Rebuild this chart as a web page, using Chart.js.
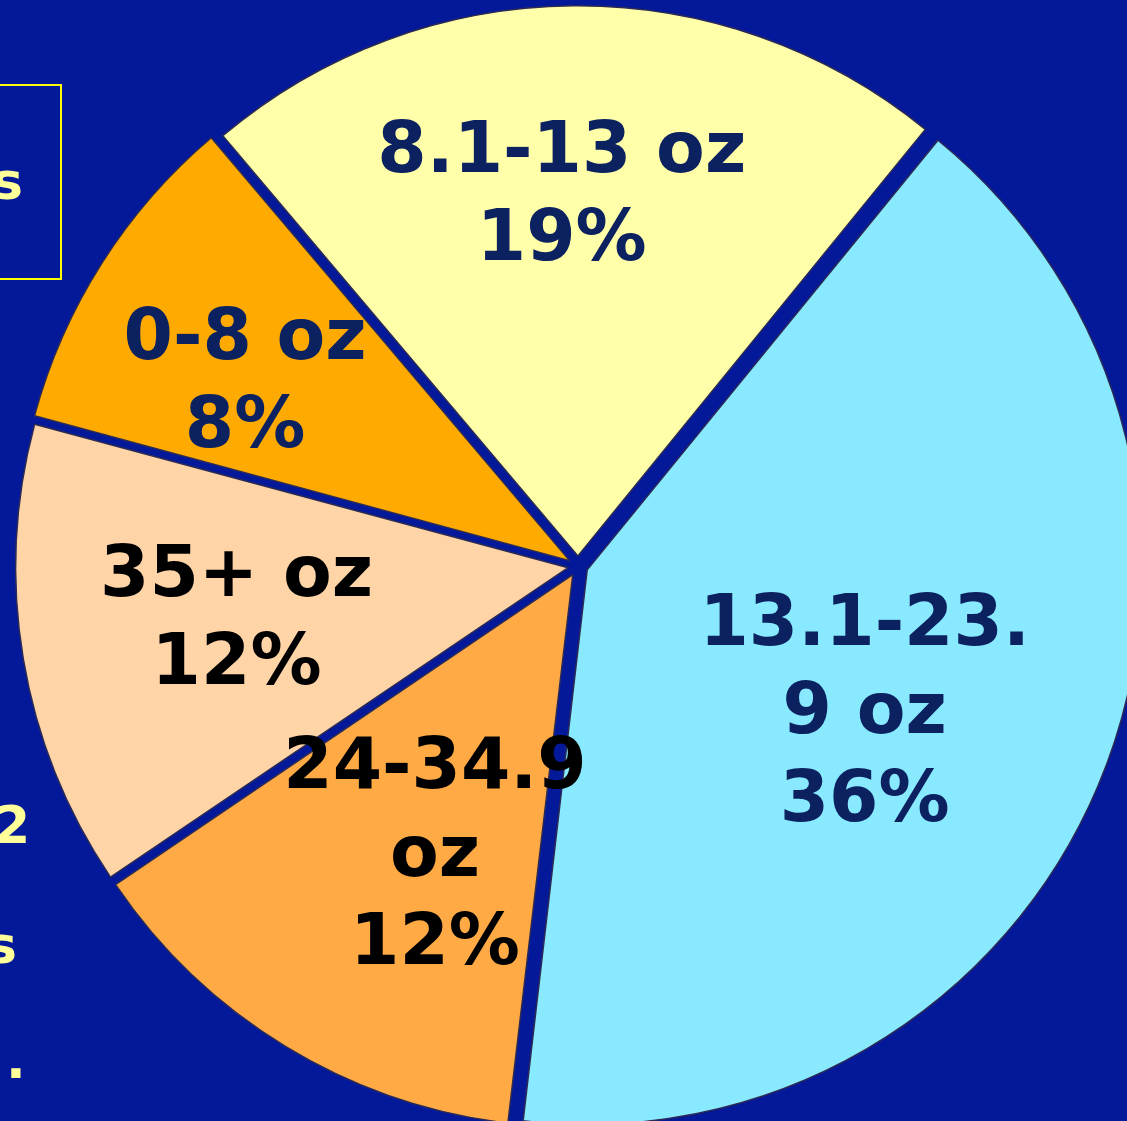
<!DOCTYPE html>
<html>
<head>
<meta charset="utf-8">
<script src="https://cdn.jsdelivr.net/npm/chart.js@4/dist/chart.umd.min.js"></script>
<style>
  html, body { margin: 0; padding: 0; width: 1127px; height: 1121px; overflow: hidden; background: #03199a; }
  #wrap { position: absolute; left: 0; top: 0; width: 1127px; height: 1121px; }
  .frag { position: absolute; color: #ffff99; font: bold 52px "Comic Sans MS", "DejaVu Sans", sans-serif; line-height: 52px; white-space: nowrap; }
  #box { position: absolute; left: -10px; top: 84px; width: 68px; height: 192px; border: 2px solid #ffff00; }
</style>
</head>
<body>
<div id="box"></div>
<div class="frag" style="left:-8px; top:155px;">s</div>
<div class="frag" style="left:-6px; top:799px;">2</div>
<div class="frag" style="left:-14px; top:919px;">s</div>
<div class="frag" style="left:6px; top:1034px;">.</div>
<div id="wrap"><canvas id="pie" width="1127" height="1121"></canvas></div>
<script>
// slices, clockwise from the top (labels show them rounded)
var categories 	= ['8.1-13 oz', '13.1-23.9 oz', '24-34.9 oz', '35+ oz', '0-8 oz'];
var values 		= [19.2, 35.7, 11.9, 11.9, 8.4];
var labelLines 	= [['8.1-13 oz'], ['13.1-23.', '9 oz'], ['24-34.9', 'oz'], ['35+ oz'], ['0-8 oz']];
var sliceColors = ['#ffffaa', '#88e9ff', '#ffaa44', '#ffd5a8', '#ffaa00'];
var textColors 	= ['#0b2160', '#0b2160', '#000000', '#000000', '#0b2160'];
// where each label sits: distance from the centre and turn away from the slice middle (deg)
var labelRadius = [369, 323, 325, 346, 379];
var labelTurn 	= [-2.0, 4.5, -5.2, 0.2, -3.9];

var sliceLabels = {
	id: 'sliceLabels',
	afterDatasetsDraw: function(chart) {
		var ctx = chart.ctx;
		var arcs = chart.getDatasetMeta(0).data;
		ctx.save();
		ctx.font = 'bold 71px "Comic Sans MS", "DejaVu Sans", sans-serif';
		ctx.textAlign = 'center';
		ctx.textBaseline = 'middle';
		for(var i=0; i<arcs.length; i++) {
			var a = arcs[i];
			var mid = (a.startAngle + a.endAngle) / 2 + labelTurn[i] * Math.PI / 180;
			var cx = a.x + Math.cos(mid) * labelRadius[i];
			var cy = a.y + Math.sin(mid) * labelRadius[i];
			var lines = labelLines[i].concat([Math.round(values[i]) + '%']);
			var lh = 88;
			var y0 = cy - (lines.length - 1) * lh / 2;
			ctx.fillStyle = textColors[i];
			for(var j=0; j<lines.length; j++) {
				ctx.fillText(lines[j], cx, y0 + j * lh);
			}
		}
		ctx.restore();
	}
};

new Chart(document.getElementById('pie'), {
	type: 'pie',
	data: {
		labels: categories,
		datasets: [{
			data: values,
			backgroundColor: sliceColors,
			borderColor: '#2b2b55',
			borderWidth: 1.5,
			offset: 40
		}]
	},
	options: {
		responsive: false,
		animation: false,
		rotation: -40.2,
		radius: 550,
		layout: { padding: { left: 29, top: 11 } },
		plugins: {
			legend: { display: false },
			tooltip: { enabled: false }
		}
	},
	plugins: [sliceLabels]
});
</script>
</body>
</html>
